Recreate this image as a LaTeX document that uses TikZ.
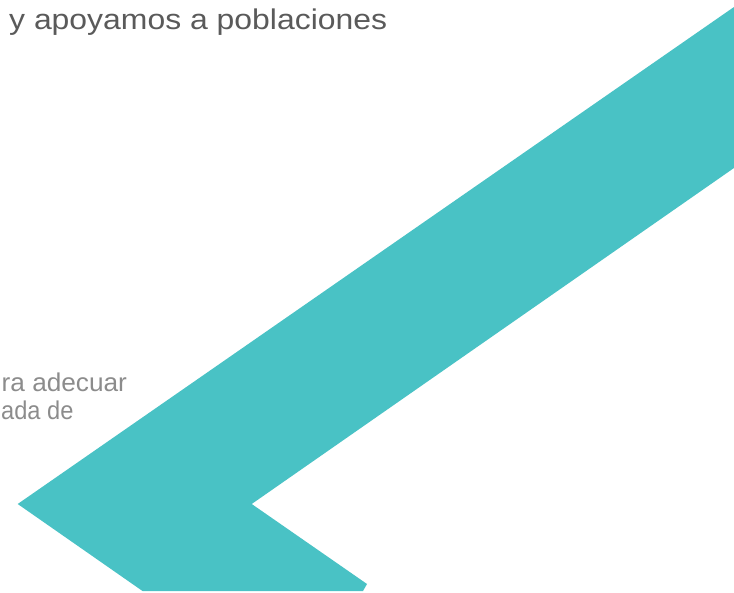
\documentclass[tikz,border=0pt]{standalone}
\usepackage{fontspec}
\usepackage{graphicx}
\setmainfont{Liberation Sans}
\definecolor{teal1}{HTML}{49C2C5}
\definecolor{darktext}{HTML}{5A5A5A}
\definecolor{lighttext}{HTML}{8C8C8C}
\tikzset{
  band/.style={fill=teal1, draw=none},
  headtext/.style={inner sep=0pt, anchor=base west, text=darktext, font=\fontsize{28.5}{34}\selectfont},
  bodytext/.style={inner sep=0pt, anchor=base west, text=lighttext, font=\fontsize{25.7}{30}\selectfont}
}
\begin{document}
\begin{tikzpicture}[x=1pt, y=-1pt]
\useasboundingbox (0,0) rectangle (734,593);
\clip (0,0) rectangle (734,593);
\fill[band] (17.7,504) -- (734,7) -- (734,168) -- (251.7,504) -- (367,584) -- (363,591) -- (142.5,591) -- cycle;
\node[headtext] (head) at (9,30) {\scalebox{1.12}[1]{y apoyamos a poblaciones}};
\node[bodytext] (line1) at (1.5,391.5) {\scalebox{1.02}[1]{ra adecuar}};
\node[bodytext] (line2) at (1,420) {\scalebox{0.92}[1]{ada de}};
\end{tikzpicture}
\end{document}
